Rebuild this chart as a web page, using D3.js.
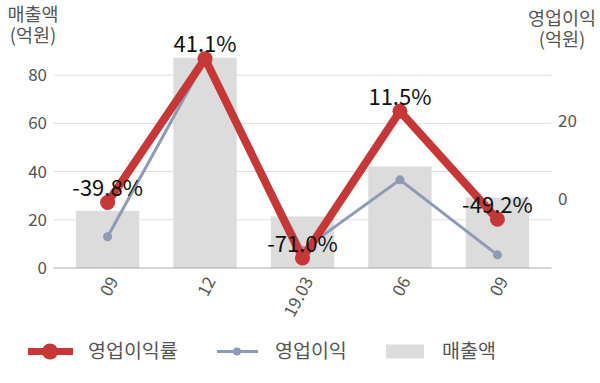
<!DOCTYPE html>
<html>
<head>
<meta charset="utf-8">
<script src="https://cdn.jsdelivr.net/npm/d3@7"></script>
<style>
  body { margin: 0; background: #fff; }
  text { font-family: "Noto Sans CJK KR", "Noto Sans", sans-serif; }
</style>
</head>
<body>
<div id="chart"></div>
<script>
// Data
const categories = ["09", "12", "19.03", "06", "09 "];
const sales = [23.7, 87.2, 21.4, 42.1, 29.2];          // 매출액 (억원), left axis
const profit = [-9.5, 35.5, -12.9, 5.0, -14.1];         // 영업이익 (억원), right axis
const margin = [-39.8, 41.1, -71.0, 11.5, -49.2];       // 영업이익률 (%), hidden axis
const leftTicks = [0, 20, 40, 60, 80];
const rightTicks = [0, 20];

const width = 600, height = 383;
const plot = {left: 53.5, right: 551.5, top: 51, bottom: 268};

const svg = d3.select("#chart")
    .append("svg")
    .attr("width", width)
    .attr("height", height);

const x = d3.scaleBand()
    .domain(categories)
    .range([plot.left, plot.right])
    .paddingInner(0.35)
    .paddingOuter(0.23);

const yLeft = d3.scaleLinear().domain([0, 90]).range([plot.bottom, plot.top]);
const yRight = d3.scaleLinear().domain([-17.45, 37.8]).range([plot.bottom, plot.top]);
const yRate = d3.scaleLinear().domain([-76.6, 45.4]).range([plot.bottom, plot.top]);

const cx = d => x(d) + x.bandwidth() / 2;

// Gridlines + left axis labels
svg.append("g")
    .selectAll("line")
    .data(leftTicks.filter(t => t > 0))
    .enter().append("line")
    .attr("x1", plot.left).attr("x2", plot.right)
    .attr("y1", d => yLeft(d)).attr("y2", d => yLeft(d))
    .attr("stroke", "#dedede")
    .attr("stroke-width", 1);

svg.append("g")
    .selectAll("text")
    .data(leftTicks)
    .enter().append("text")
    .attr("x", 47)
    .attr("y", d => yLeft(d))
    .attr("dy", "0.35em")
    .attr("text-anchor", "end")
    .attr("font-size", 17)
    .attr("fill", "#555")
    .text(d => d);

// Right axis labels
svg.append("g")
    .selectAll("text")
    .data(rightTicks)
    .enter().append("text")
    .attr("x", 558)
    .attr("y", d => yRight(d))
    .attr("dy", "0.35em")
    .attr("text-anchor", "start")
    .attr("font-size", 17)
    .attr("fill", "#555")
    .text(d => d);

// Axis titles (two lines each)
const titles = [
    {text: "매출액", x: 33, y: 21},
    {text: "(억원)", x: 33, y: 42},
    {text: "영업이익", x: 562, y: 24.5},
    {text: "(억원)", x: 562, y: 45.5}
];
svg.append("g")
    .selectAll("text")
    .data(titles)
    .enter().append("text")
    .attr("x", d => d.x)
    .attr("y", d => d.y)
    .attr("text-anchor", "middle")
    .attr("font-size", 18.5)
    .attr("fill", "#555")
    .text(d => d.text);

// Bars
svg.append("g")
    .selectAll("rect")
    .data(categories)
    .enter().append("rect")
    .attr("x", d => x(d))
    .attr("y", (d, i) => yLeft(sales[i]))
    .attr("width", x.bandwidth())
    .attr("height", (d, i) => yLeft(0) - yLeft(sales[i]))
    .attr("fill", "#dcdcdc");

// Baseline
svg.append("line")
    .attr("x1", plot.left).attr("x2", plot.right)
    .attr("y1", yLeft(0)).attr("y2", yLeft(0))
    .attr("stroke", "#aaa")
    .attr("stroke-width", 1.2);

// X tick labels
svg.append("g")
    .selectAll("text")
    .data(categories)
    .enter().append("text")
    .attr("transform", d => `translate(${cx(d) + 6},${plot.bottom + 10}) rotate(-62)`)
    .attr("text-anchor", "end")
    .attr("dy", "0.35em")
    .attr("font-size", 17)
    .attr("fill", "#555")
    .text(d => d.trim());

// 영업이익 line
const profitLine = d3.line()
    .x((d, i) => cx(categories[i]))
    .y(d => yRight(d));

svg.append("path")
    .datum(profit)
    .attr("fill", "none")
    .attr("stroke", "#8e9ab6")
    .attr("stroke-width", 3)
    .attr("d", profitLine);

svg.append("g")
    .selectAll("circle")
    .data(profit)
    .enter().append("circle")
    .attr("cx", (d, i) => cx(categories[i]))
    .attr("cy", d => yRight(d))
    .attr("r", 4.5)
    .attr("fill", "#8e9ab6");

// 영업이익률 line
const rateLine = d3.line()
    .x((d, i) => cx(categories[i]))
    .y(d => yRate(d));

svg.append("path")
    .datum(margin)
    .attr("fill", "none")
    .attr("stroke", "#c63737")
    .attr("stroke-width", 8)
    .attr("stroke-linejoin", "round")
    .attr("d", rateLine);

svg.append("g")
    .selectAll("circle")
    .data(margin)
    .enter().append("circle")
    .attr("cx", (d, i) => cx(categories[i]))
    .attr("cy", d => yRate(d))
    .attr("r", 7.5)
    .attr("fill", "#c63737");

// Rate labels
svg.append("g")
    .selectAll("text")
    .data(margin)
    .enter().append("text")
    .attr("x", (d, i) => cx(categories[i]))
    .attr("y", d => yRate(d) - 6.5)
    .attr("text-anchor", "middle")
    .attr("font-size", 22)
    .attr("fill", "#111")
    .text(d => d.toFixed(1) + "%");

// Legend
const legendY = 351.5;
const legend = svg.append("g");

legend.append("line")
    .attr("x1", 28).attr("x2", 73)
    .attr("y1", legendY).attr("y2", legendY)
    .attr("stroke", "#c63737").attr("stroke-width", 7);
legend.append("circle")
    .attr("cx", 50).attr("cy", legendY).attr("r", 8)
    .attr("fill", "#c63737");
legend.append("text")
    .attr("x", 88).attr("y", legendY).attr("dy", "0.35em")
    .attr("font-size", 19.5).attr("fill", "#555")
    .text("영업이익률");

legend.append("line")
    .attr("x1", 217).attr("x2", 258)
    .attr("y1", legendY).attr("y2", legendY)
    .attr("stroke", "#8e9ab6").attr("stroke-width", 3);
legend.append("circle")
    .attr("cx", 237).attr("cy", legendY).attr("r", 4)
    .attr("fill", "#8e9ab6");
legend.append("text")
    .attr("x", 275).attr("y", legendY).attr("dy", "0.35em")
    .attr("font-size", 19.5).attr("fill", "#555")
    .text("영업이익");

legend.append("rect")
    .attr("x", 386).attr("y", legendY - 7)
    .attr("width", 38).attr("height", 14)
    .attr("fill", "#dcdcdc");
legend.append("text")
    .attr("x", 442).attr("y", legendY).attr("dy", "0.35em")
    .attr("font-size", 19.5).attr("fill", "#555")
    .text("매출액");
</script>
</body>
</html>
